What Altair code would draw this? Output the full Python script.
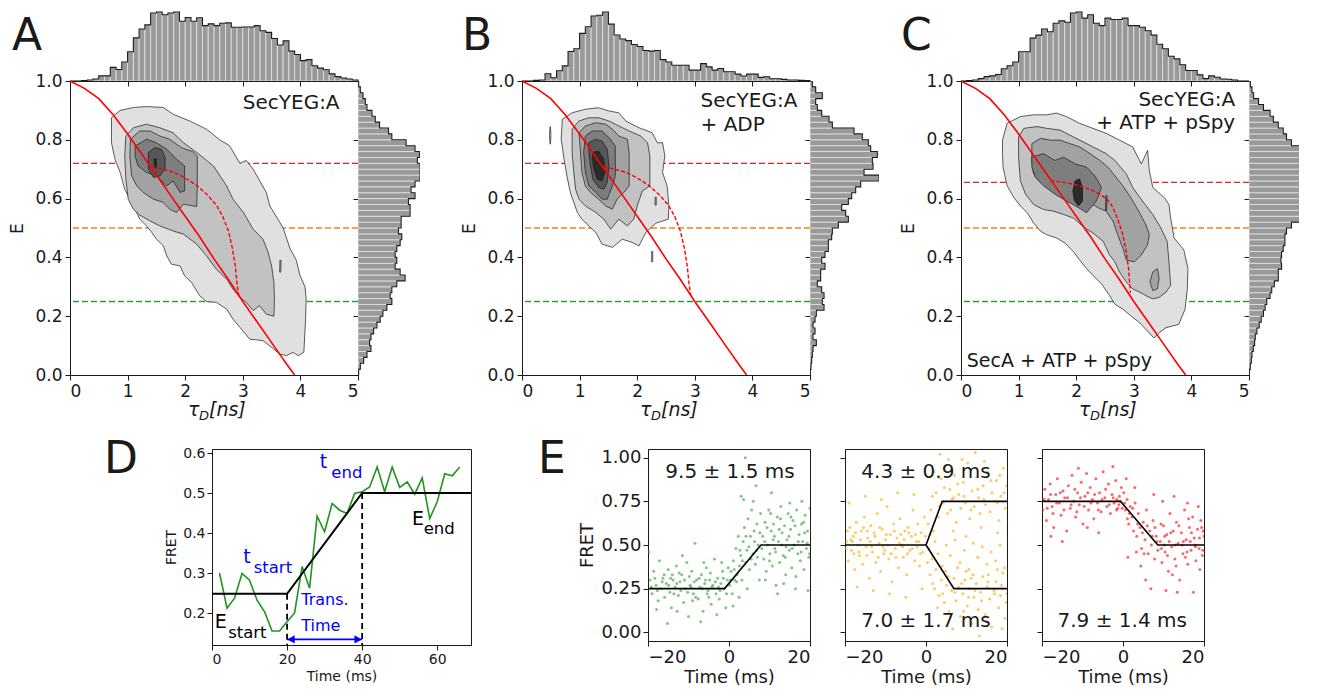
import altair as alt
import pandas as pd

FONT = "DejaVu Sans"
INK = "#1a1a1a"
GREYS = {1: "#e0e0e0", 2: "#c2c2c2", 3: "#a2a2a2", 4: "#7e7e7e", 5: "#575757", 6: "#2a2a2a"}

# ---------------- marginal histograms (counts, arbitrary units) ----------------
TOP_A = [0, 0, 1, 3, 6, 15, 15, 40, 34, 56, 86, 127, 153, 165, 200, 203, 195, 200, 203, 176,
         187, 176, 186, 163, 168, 163, 170, 171, 158, 158, 159, 159, 163, 148, 143, 125, 106, 118, 88, 78,
         60, 63, 45, 38, 33, 21, 13, 9, 6, 3]
TOP_B = [0, 0, 2, 3, 22, 10, 31, 46, 90, 98, 145, 165, 198, 200, 210, 173, 140, 128, 123, 111,
         105, 93, 91, 93, 65, 58, 48, 48, 48, 33, 33, 53, 43, 33, 38, 28, 28, 21, 15, 21,
         21, 11, 13, 7, 7, 5, 3, 3, 2, 1]
TOP_C = [0, 1, 3, 7, 13, 15, 19, 36, 45, 56, 86, 86, 126, 135, 153, 145, 170, 177, 173, 200,
         203, 185, 195, 170, 163, 185, 181, 181, 185, 163, 163, 158, 148, 135, 108, 95, 73, 65, 48, 31,
         31, 18, 7, 15, 11, 6, 5, 3, 0, 0]
RIGHT_A = [2, 7, 17, 27, 39, 35, 39, 47, 57, 67, 75, 87, 102, 97, 102, 117, 142, 127, 112, 117,
           112, 117, 127, 132, 122, 130, 130, 157, 157, 152, 172, 160, 172, 187, 187, 187, 179, 185, 172, 145,
           102, 92, 65, 52, 42, 27, 22, 15, 7, 2]
RIGHT_B = [1, 3, 5, 7, 9, 19, 9, 15, 9, 15, 19, 42, 37, 42, 35, 22, 32, 32, 45, 35,
           45, 55, 55, 65, 67, 85, 115, 107, 95, 115, 125, 137, 152, 207, 162, 189, 187, 202, 182, 175,
           157, 132, 67, 57, 35, 22, 17, 37, 17, 7]
RIGHT_C = [1, 4, 7, 9, 13, 17, 19, 24, 31, 37, 44, 49, 54, 64, 69, 77, 89, 89, 99, 97,
           99, 104, 109, 109, 114, 129, 159, 159, 164, 171, 174, 184, 189, 189, 181, 179, 174, 164, 159, 129,
           114, 104, 89, 74, 64, 44, 29, 14, 9, 4]
TAU_EDGES = [round(0.1 * i, 2) for i in range(51)]
E_EDGES = [round(0.02 * i, 2) for i in range(51)]

# ---------------- FRET lines ----------------
STATIC_TAU = [0, 0.25, 0.5, 0.75, 1.0, 1.25, 1.5, 1.75, 2.0, 2.25, 2.5, 2.75, 3.0, 3.25, 3.5, 3.75, 3.9]
STATIC_E = [1.0, 0.975, 0.94, 0.885, 0.82, 0.75, 0.68, 0.61, 0.54, 0.47, 0.395, 0.325, 0.25, 0.18, 0.11, 0.04, 0.0]
DYN_AB_TAU = [1.42, 1.6, 1.8, 2.0, 2.2, 2.4, 2.55, 2.65, 2.75, 2.82, 2.87, 2.9, 2.93]
DYN_AB_E = [0.71, 0.70, 0.69, 0.67, 0.645, 0.61, 0.575, 0.54, 0.49, 0.43, 0.37, 0.31, 0.27]
DYN_C_TAU = [1.55, 1.8, 2.06, 2.25, 2.41, 2.55, 2.64, 2.72, 2.81, 2.87, 2.91, 2.94]
DYN_C_E = [0.661, 0.655, 0.644, 0.63, 0.615, 0.595, 0.569, 0.53, 0.477, 0.42, 0.36, 0.28]

# ---------------- contour polygons (tau_D, E) ----------------
A_L1 = [(0.72, 0.875), (0.87, 0.90), (1.10, 0.91), (1.33, 0.913), (1.62, 0.91), (1.79, 0.887), (2.08, 0.864),
        (2.37, 0.836), (2.60, 0.80), (2.77, 0.78), (2.95, 0.72), (3.06, 0.73), (3.18, 0.70), (3.41, 0.62),
        (3.47, 0.575), (3.61, 0.53), (3.70, 0.50), (3.82, 0.43), (3.93, 0.39), (3.99, 0.34), (4.08, 0.30),
        (4.10, 0.26), (4.09, 0.19), (4.06, 0.077), (3.96, 0.066), (3.87, 0.077), (3.76, 0.066), (3.64, 0.071),
        (3.50, 0.094), (3.35, 0.117), (3.12, 0.122), (2.95, 0.162), (2.83, 0.19), (2.72, 0.224), (2.54, 0.247),
        (2.37, 0.25), (2.25, 0.27), (2.11, 0.315), (1.99, 0.337), (1.91, 0.371), (1.76, 0.377), (1.68, 0.405),
        (1.62, 0.44), (1.50, 0.462), (1.42, 0.485), (1.33, 0.507), (1.21, 0.53), (1.13, 0.564), (1.04, 0.598),
        (0.95, 0.632), (0.87, 0.689), (0.78, 0.734), (0.72, 0.79)]
A_L2 = [(0.97, 0.813), (1.10, 0.841), (1.33, 0.853), (1.56, 0.841), (1.79, 0.824), (1.97, 0.79), (2.20, 0.757),
        (2.49, 0.711), (2.72, 0.643), (2.83, 0.598), (3.01, 0.553), (3.18, 0.496), (3.35, 0.462), (3.44, 0.417),
        (3.50, 0.371), (3.54, 0.315), (3.55, 0.258), (3.54, 0.20), (3.41, 0.207), (3.29, 0.236), (3.18, 0.219),
        (3.06, 0.247), (2.95, 0.264), (2.83, 0.292), (2.72, 0.326), (2.54, 0.36), (2.37, 0.405), (2.20, 0.445),
        (1.97, 0.479), (1.79, 0.49), (1.56, 0.507), (1.39, 0.524), (1.21, 0.544), (1.10, 0.564), (1.01, 0.598),
        (0.97, 0.666), (0.95, 0.745)]
A_L2_ISLAND = [(3.64, 0.35), (3.66, 0.35), (3.665, 0.39), (3.645, 0.39)]
A_L3 = [(1.05, 0.802), (1.21, 0.83), (1.39, 0.83), (1.56, 0.813), (1.73, 0.802), (1.94, 0.773), (2.14, 0.759),
        (2.21, 0.745), (2.21, 0.643), (2.20, 0.573), (1.97, 0.581), (1.85, 0.553), (1.73, 0.564), (1.62, 0.587),
        (1.45, 0.598), (1.27, 0.621), (1.16, 0.643), (1.07, 0.677), (1.04, 0.745)]
A_L4 = [(1.13, 0.779), (1.33, 0.802), (1.50, 0.79), (1.68, 0.768), (1.85, 0.734), (1.99, 0.711), (1.99, 0.626),
        (1.91, 0.621), (1.79, 0.66), (1.68, 0.643), (1.50, 0.677), (1.33, 0.689), (1.18, 0.711), (1.13, 0.745)]
A_L5 = [(1.36, 0.757), (1.47, 0.773), (1.59, 0.768), (1.65, 0.74), (1.65, 0.70), (1.56, 0.677), (1.45, 0.672),
        (1.36, 0.70)]
A_L6 = [(1.46, 0.705), (1.50, 0.705), (1.50, 0.735), (1.46, 0.735)]

B_L1 = [(0.70, 0.87), (0.87, 0.892), (1.10, 0.904), (1.33, 0.909), (1.51, 0.898), (1.68, 0.892), (1.80, 0.864),
        (2.03, 0.841), (2.26, 0.824), (2.35, 0.79), (2.44, 0.79), (2.48, 0.745), (2.44, 0.689), (2.52, 0.643),
        (2.55, 0.575), (2.54, 0.53), (2.32, 0.516), (2.15, 0.485), (2.03, 0.439), (1.91, 0.451), (1.74, 0.462),
        (1.57, 0.434), (1.39, 0.445), (1.28, 0.485), (1.16, 0.507), (1.04, 0.53), (0.96, 0.553), (0.90, 0.587),
        (0.84, 0.62), (0.78, 0.677), (0.73, 0.734), (0.68, 0.802)]
B_L1_ISLANDS = [[(0.48, 0.80), (0.49, 0.785), (0.50, 0.80), (0.50, 0.83), (0.49, 0.845), (0.48, 0.83)],
                [(2.25, 0.385), (2.27, 0.385), (2.27, 0.42), (2.25, 0.42)]]
B_L2 = [(0.87, 0.836), (0.99, 0.864), (1.16, 0.875), (1.33, 0.875), (1.51, 0.864), (1.68, 0.847), (1.86, 0.83),
        (2.06, 0.813), (2.18, 0.79), (2.22, 0.745), (2.22, 0.643), (2.09, 0.626), (2.00, 0.575), (1.94, 0.53),
        (1.83, 0.507), (1.68, 0.53), (1.54, 0.496), (1.42, 0.53), (1.28, 0.553), (1.10, 0.575), (0.99, 0.598),
        (0.93, 0.632), (0.90, 0.689), (0.87, 0.757)]
B_L2_ISLAND = [(2.31, 0.578), (2.33, 0.578), (2.33, 0.605), (2.31, 0.605)]
B_L3 = [(0.99, 0.824), (1.10, 0.847), (1.28, 0.858), (1.45, 0.853), (1.57, 0.836), (1.68, 0.813), (1.83, 0.802),
        (1.86, 0.757), (1.86, 0.643), (1.77, 0.621), (1.65, 0.598), (1.57, 0.564), (1.45, 0.575), (1.33, 0.598),
        (1.19, 0.621), (1.10, 0.643), (1.04, 0.689), (1.02, 0.745)]
B_L4 = [(1.10, 0.813), (1.22, 0.83), (1.39, 0.83), (1.51, 0.807), (1.62, 0.779), (1.62, 0.677), (1.57, 0.643),
        (1.48, 0.598), (1.39, 0.598), (1.28, 0.621), (1.16, 0.643), (1.10, 0.689), (1.07, 0.757)]
B_L5 = [(1.16, 0.79), (1.28, 0.802), (1.39, 0.796), (1.48, 0.768), (1.51, 0.711), (1.48, 0.655), (1.42, 0.632),
        (1.33, 0.638), (1.23, 0.666), (1.19, 0.711), (1.16, 0.757)]
B_L6 = [(1.23, 0.757), (1.33, 0.762), (1.42, 0.734), (1.44, 0.689), (1.39, 0.66), (1.31, 0.666), (1.25, 0.70),
        (1.22, 0.734)]

C_L1 = [(0.72, 0.799), (0.80, 0.856), (1.03, 0.879), (1.26, 0.885), (1.49, 0.885), (1.66, 0.891), (1.83, 0.879),
        (2.06, 0.856), (2.29, 0.839), (2.52, 0.822), (2.75, 0.799), (2.98, 0.776), (3.13, 0.718), (3.24, 0.764),
        (3.27, 0.695), (3.33, 0.638), (3.53, 0.603), (3.61, 0.58), (3.64, 0.534), (3.70, 0.466), (3.87, 0.425),
        (3.94, 0.362), (3.93, 0.293), (3.89, 0.224), (3.78, 0.172), (3.56, 0.161), (3.44, 0.144), (3.35, 0.126),
        (3.24, 0.149), (3.10, 0.178), (2.95, 0.201), (2.81, 0.224), (2.67, 0.241), (2.58, 0.27), (2.44, 0.31),
        (2.29, 0.339), (2.18, 0.362), (2.06, 0.391), (1.95, 0.42), (1.81, 0.448), (1.66, 0.466), (1.49, 0.477),
        (1.38, 0.489), (1.26, 0.517), (1.15, 0.552), (1.03, 0.575), (0.92, 0.603), (0.80, 0.644), (0.73, 0.707),
        (0.72, 0.753)]
C_L2 = [(1.00, 0.81), (1.09, 0.839), (1.32, 0.845), (1.49, 0.839), (1.72, 0.833), (1.89, 0.816), (2.06, 0.799),
        (2.29, 0.776), (2.52, 0.753), (2.67, 0.73), (2.87, 0.684), (2.98, 0.638), (3.15, 0.592), (3.33, 0.546),
        (3.47, 0.50), (3.58, 0.454), (3.61, 0.385), (3.64, 0.305), (3.56, 0.282), (3.44, 0.264), (3.33, 0.259),
        (3.21, 0.27), (3.10, 0.282), (2.98, 0.293), (2.87, 0.316), (2.75, 0.351), (2.67, 0.385), (2.58, 0.408),
        (2.47, 0.454), (2.29, 0.483), (2.15, 0.50), (1.95, 0.534), (1.78, 0.546), (1.61, 0.557), (1.43, 0.563),
        (1.26, 0.58), (1.12, 0.615), (1.03, 0.661), (1.00, 0.741)]
C_L3 = [(1.23, 0.787), (1.38, 0.805), (1.55, 0.799), (1.72, 0.799), (1.89, 0.787), (2.06, 0.776), (2.24, 0.753),
        (2.41, 0.73), (2.55, 0.707), (2.67, 0.678), (2.81, 0.644), (2.95, 0.603), (3.10, 0.552), (3.21, 0.511),
        (3.27, 0.477), (3.24, 0.443), (3.13, 0.408), (3.01, 0.385), (2.87, 0.391), (2.81, 0.431), (2.72, 0.477),
        (2.64, 0.523), (2.52, 0.557), (2.38, 0.569), (2.24, 0.586), (2.09, 0.592), (1.95, 0.603), (1.81, 0.615),
        (1.66, 0.632), (1.52, 0.649), (1.38, 0.661), (1.26, 0.684), (1.23, 0.73)]
C_L3_ISLAND = [(3.33, 0.351), (3.41, 0.362), (3.44, 0.328), (3.41, 0.293), (3.33, 0.287), (3.28, 0.316)]
C_L4 = [(1.23, 0.741), (1.43, 0.753), (1.63, 0.73), (1.78, 0.741), (1.98, 0.718), (2.18, 0.707), (2.32, 0.678),
        (2.44, 0.638), (2.35, 0.592), (2.18, 0.552), (2.04, 0.569), (1.83, 0.592), (1.63, 0.615), (1.43, 0.644),
        (1.29, 0.672), (1.23, 0.707)]
C_L4_ISLAND = [(2.51, 0.56), (2.53, 0.56), (2.535, 0.61), (2.515, 0.61)]
C_L5 = [(1.98, 0.661), (2.06, 0.667), (2.11, 0.638), (2.11, 0.592), (2.04, 0.575), (1.97, 0.592), (1.94, 0.626)]

# ---------------- panel D ----------------
D_T = [2, 4, 6, 8, 10, 12, 14, 16, 18, 20, 22, 24, 26, 28, 30, 32, 34, 36, 38, 40, 42, 44, 46, 48, 50, 52,
       54, 56, 58, 60, 62, 64, 66]
D_F = [0.30, 0.212, 0.237, 0.299, 0.282, 0.232, 0.203, 0.155, 0.155, 0.178, 0.20, 0.316, 0.262, 0.442, 0.403,
       0.474, 0.457, 0.449, 0.499, 0.503, 0.515, 0.565, 0.503, 0.565, 0.514, 0.528, 0.497, 0.538, 0.436, 0.478,
       0.548, 0.543, 0.565]
D_FIT_T = [0, 20, 40, 69]
D_FIT_F = [0.248, 0.248, 0.5, 0.5]

# ---------------- panel E scatter (time ms, FRET) ----------------
E1_PTS = [(-19.5, 0.30), (-19, 0.22), (-18.6, 0.35), (-18, 0.27), (-17.5, 0.18), (-17.2, 0.41), (-16.8, 0.25),
          (-16.3, 0.31), (-15.9, 0.20), (-15.5, 0.28), (-15, 0.36), (-14.6, 0.23), (-14.2, 0.14), (-13.8, 0.30),
          (-13.3, 0.26), (-13, 0.38), (-12.5, 0.21), (-12.1, 0.29), (-11.7, 0.33), (-11.2, 0.17), (-10.8, 0.25),
          (-10.4, 0.40), (-10, 0.09), (-9.6, 0.27), (-9.2, 0.35), (-8.8, 0.22), (-8.4, 0.51), (-8, 0.30),
          (-7.6, 0.19), (-7.2, 0.26), (-6.8, 0.33), (-6.4, 0.12), (-6, 0.28), (-5.6, 0.37), (-5.2, 0.24),
          (-4.8, 0.30), (-4.4, 0.16), (-4, 0.27), (-3.6, 0.42), (-3.2, 0.22), (-2.8, 0.31), (-2.4, 0.19),
          (-2, 0.28), (-1.6, 0.35), (-1.2, 0.25), (-0.8, 0.14), (-0.4, 0.30), (-19.8, 0.46), (-15.2, 0.05),
          (-11.5, 0.44), (-7, 0.06), (-3, 0.10), (-17.9, 0.13), (-12.8, 0.12), (-9, 0.18), (-5, 0.20),
          (-1.8, 0.40), (-14, 0.33), (-6.2, 0.40), (-2.6, 0.26),
          (0.2, 0.27), (0.5, 0.35), (0.8, 0.22), (1.1, 0.41), (1.4, 0.30), (1.7, 0.48), (2.0, 0.33), (2.3, 0.55),
          (2.6, 0.38), (2.9, 0.44), (3.0, 0.78), (3.2, 0.30), (3.5, 0.52), (3.8, 0.60), (4.0, 1.00), (4.1, 0.40),
          (4.4, 0.47), (4.7, 0.65), (5.0, 0.36), (5.3, 0.55), (5.6, 0.70), (5.9, 0.45), (6.2, 0.58), (6.5, 0.39),
          (6.7, 0.84), (6.9, 0.62), (7.2, 0.50), (7.5, 0.30), (7.8, 0.68), (1.0, 0.15), (2.5, 0.20), (4.5, 0.25),
          (6.0, 0.75), (7.0, 0.43), (3.6, 0.76),
          (8.3, 0.55), (8.6, 0.42), (8.9, 0.63), (9.2, 0.35), (9.5, 0.50), (9.8, 0.70), (10.1, 0.45), (10.4, 0.58),
          (10.7, 0.38), (11, 0.62), (11.3, 0.48), (11.6, 0.27), (11.9, 0.66), (12.2, 0.52), (12.5, 0.40),
          (12.8, 0.72), (13.1, 0.57), (13.4, 0.44), (13.7, 0.61), (14, 0.33), (14.3, 0.53), (14.6, 0.68),
          (14.9, 0.47), (15.2, 0.59), (15.5, 0.37), (15.8, 0.64), (16.1, 0.50), (16.4, 0.25), (16.7, 0.70),
          (17, 0.45), (17.3, 0.56), (17.6, 0.41), (17.9, 0.62), (18.2, 0.52), (18.5, 0.36), (18.8, 0.67),
          (19.1, 0.48), (19.4, 0.58), (19.7, 0.43), (20, 0.71), (9, 0.30), (10.5, 0.80), (12, 0.22), (13.5, 0.28),
          (15, 0.74), (16.5, 0.32), (18, 0.75), (19.5, 0.24), (11.2, 0.55), (14.1, 0.49),
          (-19.2, 0.26), (-18.3, 0.31), (-17.7, 0.24), (-16.5, 0.29), (-16, 0.33), (-14.9, 0.27), (-14.4, 0.31),
          (-13.6, 0.22), (-12.9, 0.28), (-12.3, 0.34), (-11.9, 0.24), (-11, 0.30), (-10.2, 0.23), (-9.8, 0.32),
          (-9.4, 0.26), (-8.6, 0.29), (-8.2, 0.20), (-7.4, 0.31), (-6.6, 0.25), (-5.8, 0.30), (-5.4, 0.22),
          (-4.6, 0.34), (-4.2, 0.26), (-3.4, 0.29), (-2.2, 0.24), (-1.4, 0.31), (-0.6, 0.22), (-0.2, 0.37),
          (0.4, 0.30), (1.3, 0.36), (1.9, 0.29), (2.7, 0.47), (3.3, 0.41), (4.2, 0.55), (4.9, 0.49), (5.5, 0.42),
          (6.3, 0.52), (6.8, 0.47), (7.6, 0.57), (8.1, 0.48), (8.8, 0.52), (9.4, 0.60), (10, 0.41), (10.9, 0.53),
          (11.5, 0.46), (12.4, 0.59), (13, 0.50), (13.9, 0.43), (14.8, 0.55), (15.6, 0.48), (16.3, 0.61),
          (17.1, 0.52), (17.8, 0.46), (18.7, 0.57), (19.3, 0.51), (19.9, 0.45), (12.7, 0.65), (15.3, 0.66),
          (18.4, 0.63), (10.3, 0.68)]
E2_PTS = [(-19.6, 0.52), (-19.2, 0.41), (-18.8, 0.60), (-18.4, 0.47), (-18, 0.55), (-17.6, 0.36), (-17.2, 0.63),
          (-16.8, 0.50), (-16.4, 0.44), (-16, 0.58), (-15.6, 0.39), (-15.2, 0.66), (-14.8, 0.49), (-14.4, 0.54),
          (-14, 0.31), (-13.6, 0.61), (-13.2, 0.46), (-12.8, 0.57), (-12.4, 0.40), (-12, 0.68), (-11.6, 0.51),
          (-11.2, 0.35), (-10.8, 0.59), (-10.4, 0.45), (-10, 0.53), (-9.6, 0.72), (-9.2, 0.42), (-8.8, 0.56),
          (-8.4, 0.29), (-8, 0.62), (-7.6, 0.48), (-7.2, 0.54), (-6.8, 0.37), (-6.4, 0.65), (-6, 0.50),
          (-5.6, 0.43), (-5.2, 0.58), (-4.8, 0.33), (-4.4, 0.60), (-4, 0.47), (-3.6, 0.55), (-3.2, 0.70),
          (-2.8, 0.41), (-2.4, 0.52), (-2, 0.62), (-1.6, 0.38), (-1.2, 0.57), (-0.8, 0.46), (-0.4, 0.66),
          (-19, 0.74), (-17, 0.26), (-15, 0.78), (-13, 0.24), (-11, 0.76), (-9, 0.22), (-7, 0.80), (-5, 0.20),
          (-3, 0.79), (-1, 0.25), (-18.2, 0.52), (-14.5, 0.58), (-10.6, 0.49), (-6.6, 0.51), (-2.2, 0.49),
          (0.5, 0.62), (1.2, 0.70), (1.8, 0.58), (2.5, 0.80), (3.1, 0.66), (3.7, 0.88), (4.2, 0.74), (4.8, 0.95),
          (5.3, 0.68), (5.9, 0.82), (6.4, 0.76), (7, 0.90), (7.5, 0.63), (8.1, 0.79), (8.6, 0.71), (9.2, 0.86),
          (9.7, 0.74), (10.3, 0.97), (10.8, 0.65), (11.4, 0.81), (11.9, 0.72), (12.5, 0.89), (13, 0.77),
          (13.6, 0.60), (14.1, 0.84), (14.7, 0.73), (15.2, 0.92), (15.8, 0.69), (16.3, 0.80), (16.9, 0.75),
          (17.4, 0.87), (18, 0.64), (18.5, 0.78), (19.1, 0.94), (19.6, 0.71), (3.4, 1.02), (12.2, 1.03),
          (6.7, 0.58), (9.9, 0.55), (17.7, 0.57), (2.0, 0.92), (5.6, 0.99), (14.4, 0.98), (19.9, 0.84), (8.9, 0.99),
          (0.8, 0.48), (1.5, 0.42), (2.2, 0.52), (3.0, 0.45), (4.0, 0.38), (5.0, 0.50), (6.0, 0.44), (7.2, 0.53),
          (8.4, 0.40), (9.5, 0.47), (10.6, 0.36), (11.7, 0.51), (12.8, 0.43), (13.9, 0.49), (15, 0.39),
          (16.1, 0.46), (17.2, 0.41), (18.3, 0.50), (19.4, 0.37), (1.0, 0.56),
          (0.3, 0.40), (1.0, 0.33), (1.7, 0.28), (2.4, 0.36), (3.2, 0.21), (3.8, 0.30), (4.5, 0.17), (5.1, 0.27),
          (5.7, 0.12), (6.3, 0.24), (6.9, 0.31), (7.4, 0.18), (8, 0.26), (8.5, 0.09), (9.1, 0.22), (9.6, 0.30),
          (10.2, 0.15), (10.7, 0.25), (11.3, 0.05), (11.8, 0.20), (12.4, 0.28), (12.9, 0.13), (13.5, 0.23),
          (14, 0.32), (14.6, 0.10), (15.1, 0.26), (15.7, 0.19), (16.2, 0.03), (16.8, 0.24), (17.3, 0.29),
          (17.9, 0.14), (18.4, 0.21), (19, 0.34), (19.5, 0.08), (20, 0.22), (2.8, 0.14), (6.6, 0.02), (9.9, 0.35),
          (13.2, -0.02), (17.6, 0.36), (4.8, 0.35), (11.1, 0.31), (15.4, 0.33), (18.8, 0.02), (7.8, 0.37),
          (-19.8, 0.48), (-19.4, 0.58), (-18.6, 0.53), (-17.8, 0.45), (-17.4, 0.57), (-16.6, 0.46), (-16.2, 0.53),
          (-15.4, 0.60), (-14.6, 0.44), (-13.8, 0.52), (-13.4, 0.49), (-12.6, 0.55), (-11.8, 0.43), (-11.4, 0.60),
          (-10.2, 0.47), (-9.8, 0.56), (-9.4, 0.50), (-8.6, 0.45), (-7.8, 0.58), (-7.4, 0.43), (-6.2, 0.56),
          (-5.8, 0.49), (-5.4, 0.53), (-4.6, 0.45), (-4.2, 0.57), (-3.4, 0.48), (-2.6, 0.56), (-1.8, 0.52),
          (-1.4, 0.45), (-0.2, 0.55),
          (1.6, 0.78), (3.3, 0.72), (4.5, 0.83), (6.1, 0.70), (7.8, 0.85), (9.4, 0.78), (11.1, 0.70), (12.8, 0.82),
          (14.3, 0.76), (16, 0.87), (17.6, 0.74), (19.3, 0.80), (6.8, 0.77), (13.3, 0.68), (18.2, 0.90),
          (2.1, 0.25), (4.1, 0.22), (5.5, 0.32), (7.1, 0.23), (8.8, 0.28), (10.5, 0.20), (12.1, 0.24), (13.7, 0.18),
          (15.3, 0.29), (16.9, 0.22), (18.6, 0.27), (19.8, 0.17), (9.3, 0.12), (14.9, 0.06), (11.6, 0.33)]
E3_PTS = [(-19.8, 0.70), (-19.3, 0.82), (-18.9, 0.64), (-18.4, 0.76), (-18, 0.85), (-17.5, 0.72), (-17.1, 0.60),
          (-16.6, 0.79), (-16.2, 0.88), (-15.7, 0.74), (-15.3, 0.67), (-14.8, 0.81), (-14.4, 0.77), (-13.9, 0.58),
          (-13.5, 0.84), (-13, 0.71), (-12.6, 0.90), (-12.1, 0.75), (-11.7, 0.66), (-11.2, 0.80), (-10.8, 0.73),
          (-10.3, 0.86), (-9.9, 0.62), (-9.4, 0.78), (-9, 0.91), (-8.5, 0.70), (-8.1, 0.83), (-7.6, 0.76),
          (-7.2, 0.65), (-6.7, 0.88), (-6.3, 0.74), (-5.8, 0.80), (-5.4, 0.69), (-4.9, 0.92), (-4.5, 0.77),
          (-4, 0.72), (-3.6, 0.85), (-3.1, 0.68), (-2.7, 0.79), (-2.2, 0.74), (-1.8, 0.87), (-1.3, 0.71),
          (-0.9, 0.78), (-0.4, 0.83), (-17.8, 0.55), (-11, 0.94), (-6, 0.57), (-2.5, 0.95), (-15, 0.52),
          (-8.8, 0.60), (-1.0, 0.73), (-1.5, 0.76),
          (0.2, 0.80), (0.6, 0.70), (1.0, 0.76), (1.4, 0.62), (1.8, 0.72), (2.2, 0.66), (2.6, 0.58), (3.0, 0.74),
          (3.4, 0.55), (3.8, 0.68), (4.2, 0.60), (4.6, 0.48), (5.0, 0.63), (5.4, 0.53), (5.8, 0.70), (6.2, 0.45),
          (6.6, 0.58), (7.0, 0.50), (7.4, 0.64), (7.8, 0.42), (8.2, 0.55), (8.6, 0.47), (0.8, 0.88), (2.9, 0.83),
          (4.4, 0.38), (5.6, 0.30), (6.9, 0.25), (7.6, 0.79), (1.2, 0.43), (3.3, 0.46),
          (9.2, 0.52), (9.6, 0.40), (10, 0.61), (10.4, 0.46), (10.8, 0.56), (11.2, 0.35), (11.6, 0.68), (12, 0.49),
          (12.4, 0.58), (12.8, 0.42), (13.2, 0.63), (13.6, 0.51), (14, 0.30), (14.4, 0.57), (14.8, 0.45),
          (15.2, 0.70), (15.6, 0.53), (16, 0.39), (16.4, 0.60), (16.8, 0.47), (17.2, 0.66), (17.6, 0.54),
          (18, 0.41), (18.4, 0.59), (18.8, 0.48), (19.2, 0.64), (19.6, 0.44), (20, 0.55), (9.8, 0.75),
          (12.6, 0.78), (15.9, 0.74), (18.6, 0.72), (10.6, 0.24), (13.4, 0.23), (17.4, 0.23), (11.4, 0.52),
          (14.6, 0.50), (19, 0.36), (16.6, 0.52), (12.2, 0.33), (9.4, 0.62), (17.8, 0.50), (19.8, 0.58),
          (10.2, 0.50), (15.4, 0.43),
          (-19.5, 0.76), (-18.7, 0.71), (-17.9, 0.79), (-17.3, 0.68), (-16.4, 0.74), (-15.5, 0.80), (-14.6, 0.70),
          (-13.7, 0.77), (-12.8, 0.73), (-11.9, 0.82), (-11.4, 0.69), (-10.5, 0.77), (-9.6, 0.72), (-8.7, 0.80),
          (-7.9, 0.74), (-7, 0.79), (-6.1, 0.70), (-5.2, 0.76), (-4.3, 0.82), (-3.4, 0.73), (-2.4, 0.77),
          (-1.6, 0.70), (-0.7, 0.75), (-0.2, 0.71),
          (0.4, 0.74), (1.6, 0.68), (2.4, 0.71), (3.6, 0.62), (4.8, 0.57), (6.0, 0.61), (7.2, 0.55), (8.4, 0.52),
          (1.1, 0.65), (5.2, 0.45), (7.9, 0.60),
          (9.5, 0.48), (10.3, 0.55), (11, 0.44), (11.8, 0.57), (12.9, 0.50), (13.8, 0.61), (14.9, 0.52),
          (15.8, 0.46), (16.9, 0.57), (17.9, 0.49), (18.9, 0.54), (19.7, 0.47), (13.1, 0.38), (16.2, 0.65),
          (19.4, 0.60)]
E1_FITS = [([-20, -1.1, 7.9, 20], [0.25, 0.25, 0.5, 0.5])]
E2_FITS = [([-20, 0, 4.0, 20], [0.5, 0.5, 0.75, 0.75]), ([0, 6.9, 20], [0.5, 0.25, 0.25])]
E3_FITS = [([-20, -0.6, 8.6, 20], [0.75, 0.75, 0.5, 0.5])]

NOSTROKE = alt.ViewBackground(stroke="transparent")


# =============================== builders ===============================
def letter_layer(letter, px, py):
    return alt.Chart(pd.DataFrame({"t": [letter]})).mark_text(
        align="left", baseline="alphabetic", fontSize=44, color=INK, font=FONT
    ).encode(text="t:N", x=alt.value(px), y=alt.value(py))


def blank(w, h):
    return alt.Chart(pd.DataFrame({"a": [0]})).mark_point(opacity=0).encode(
        x=alt.value(0), y=alt.value(0)).properties(width=w, height=h, view=NOSTROKE)


def top_hist(counts, letter, lx, ly):
    mx = max(counts)
    X = alt.X("x:Q", scale=alt.Scale(domain=[0, 5], nice=False, zero=False),
              axis=alt.Axis(values=[0, 1, 2, 3, 4, 5], labels=False, tickSize=5, title=None, grid=False))
    Y = alt.Y("c:Q", scale=alt.Scale(domain=[0, mx], nice=False), axis=None)
    bars = alt.Chart(pd.DataFrame({"x": TAU_EDGES[:-1], "x1": TAU_EDGES[1:], "c": counts,
                                   "z": [0] * len(counts)})).mark_bar(
        fill="#999999", stroke="#e4e4e4", strokeWidth=0.8).encode(x=X, x2="x1:Q", y=Y, y2="z:Q")
    sx = [0.0] + TAU_EDGES[:-1] + [5.0, 5.0]
    sy = [0] + list(counts) + [counts[-1], 0]
    step = alt.Chart(pd.DataFrame({"x": sx, "c": sy, "i": list(range(len(sx)))})).mark_line(
        interpolate="step-after", color=INK, strokeWidth=1.1).encode(x=X, y=Y, order="i:Q")
    return alt.layer(bars, step, letter_layer(letter, lx, ly)).properties(width=288, height=69, view=NOSTROKE)


def right_hist(counts, width, dmax):
    Y = alt.Y("y:Q", scale=alt.Scale(domain=[0, 1], nice=False, zero=False),
              axis=alt.Axis(values=[0, 0.2, 0.4, 0.6, 0.8, 1.0], labels=False, tickSize=5, title=None, grid=False))
    X = alt.X("c:Q", scale=alt.Scale(domain=[0, dmax], nice=False), axis=None)
    bars = alt.Chart(pd.DataFrame({"y": E_EDGES[:-1], "y1": E_EDGES[1:], "c": counts,
                                   "z": [0] * len(counts)})).mark_bar(
        fill="#999999", stroke="#e4e4e4", strokeWidth=0.8, clip=True).encode(y=Y, y2="y1:Q", x=X, x2="z:Q")
    sx = [0] + list(counts) + [counts[-1], 0]
    sy = [0.0] + E_EDGES[:-1] + [1.0, 1.0]
    step = alt.Chart(pd.DataFrame({"c": sx, "y": sy, "i": list(range(len(sx)))})).mark_line(
        interpolate="step-before", color=INK, strokeWidth=1.1, clip=True).encode(x=X, y=Y, order="i:Q")
    return alt.layer(bars, step).properties(width=width, height=294, view=NOSTROKE)


def main_panel(levels, hlines, dyn_tau, dyn_e, texts):
    X = alt.X("x:Q", scale=alt.Scale(domain=[0, 5], nice=False, zero=False),
              axis=alt.Axis(values=[0, 1, 2, 3, 4, 5], format="d", title=None, labelFontSize=17,
                            tickSize=5, labelPadding=3, grid=False))
    Y = alt.Y("y:Q", scale=alt.Scale(domain=[0, 1], nice=False, zero=False),
              axis=alt.Axis(values=[0, 0.2, 0.4, 0.6, 0.8, 1.0], format=".1f", title="E", labelFontSize=17,
                            titleFontSize=17, tickSize=5, labelPadding=3, titlePadding=8, grid=False))
    layers = []
    for val, col in hlines:
        layers.append(alt.Chart(pd.DataFrame({"y": [val]})).mark_rule(
            color=col, strokeDash=[6, 3], strokeWidth=1.3).encode(y=Y))
    for lvl, polys in levels:
        rows = []
        for pid, poly in enumerate(polys):
            for i, (x, y) in enumerate(poly):
                rows.append({"x": x, "y": y, "p": pid, "i": i})
        layers.append(alt.Chart(pd.DataFrame(rows)).mark_line(
            interpolate="linear-closed", fill=GREYS[lvl], stroke=INK, strokeWidth=0.7).encode(
            x=X, y=Y, detail="p:N", order="i:Q"))
    layers.append(alt.Chart(pd.DataFrame({"x": STATIC_TAU, "y": STATIC_E})).mark_line(
        color="#ff0000", strokeWidth=1.6).encode(x=X, y=Y))
    layers.append(alt.Chart(pd.DataFrame({"x": dyn_tau, "y": dyn_e})).mark_line(
        color="#ff0000", strokeWidth=1.4, strokeDash=[4, 2]).encode(x=X, y=Y))
    for txt, x, y, align, size in texts:
        layers.append(alt.Chart(pd.DataFrame({"x": [x], "y": [y], "t": [txt]})).mark_text(
            align=align, baseline="middle", fontSize=size, color=INK, font=FONT).encode(x=X, y=Y, text="t:N"))
    for txt, px, py, size in [("τ", 118, 335, 19), ("D", 129, 339, 13), ("[ns]", 139, 335, 19)]:
        layers.append(alt.Chart(pd.DataFrame({"t": [txt]})).mark_text(
            align="left", baseline="alphabetic", fontSize=size, fontStyle="italic", color=INK, font=FONT
        ).encode(text="t:N", x=alt.value(px), y=alt.value(py)))
    return alt.layer(*layers).properties(width=288, height=294)


def group(top, main, right, rw):
    return alt.concat(top, blank(rw, 69), main, right, columns=2, spacing=0, bounds="flush")


HL_AB = [(0.72, "#d62728"), (0.5, "#ff7f0e"), (0.25, "#2ca02c")]
HL_C = [(0.655, "#d62728"), (0.5, "#ff7f0e"), (0.25, "#2ca02c")]

mainA = main_panel([(1, [A_L1]), (2, [A_L2, A_L2_ISLAND]), (3, [A_L3]), (4, [A_L4]), (5, [A_L5]), (6, [A_L6])],
                   HL_AB, DYN_AB_TAU, DYN_AB_E, [("SecYEG:A", 4.68, 0.926, "right", 20)])
mainB = main_panel([(1, [B_L1] + B_L1_ISLANDS), (2, [B_L2, B_L2_ISLAND]), (3, [B_L3]), (4, [B_L4]), (5, [B_L5]),
                    (6, [B_L6])],
                   HL_AB, DYN_AB_TAU, DYN_AB_E,
                   [("SecYEG:A", 3.10, 0.932, "left", 20), ("+ ADP", 3.10, 0.849, "left", 20)])
mainC = main_panel([(1, [C_L1]), (2, [C_L2]), (3, [C_L3, C_L3_ISLAND]), (4, [C_L4, C_L4_ISLAND]), (6, [C_L5])],
                   HL_C, DYN_C_TAU, DYN_C_E,
                   [("SecYEG:A", 4.76, 0.937, "right", 20), ("+ ATP + pSpy", 4.76, 0.856, "right", 20),
                    ("SecA + ATP + pSpy", 0.10, 0.046, "left", 19)])

gA = group(top_hist(TOP_A, "A", -58, 38), mainA, right_hist(RIGHT_A, 62, 187), 62)
gB = group(top_hist(TOP_B, "B", -60, 38), mainB, right_hist(RIGHT_B, 69, 207), 69)
gC = group(top_hist(TOP_C, "C", -60, 38), mainC, right_hist(RIGHT_C, 50, 152), 50)
top_row = alt.hconcat(gA, alt.hconcat(gB, gC, spacing=19), spacing=39)

# ---------------- panel D ----------------
DX = alt.X("t:Q", scale=alt.Scale(domain=[0, 69], nice=False, zero=False),
           axis=alt.Axis(values=[0, 20, 40, 60], format="d", title="Time (ms)", labelFontSize=14, titleFontSize=14,
                         tickSize=5, grid=False, titlePadding=3))
DY = alt.Y("f:Q", scale=alt.Scale(domain=[0.12, 0.61], nice=False, zero=False),
           axis=alt.Axis(values=[0.2, 0.3, 0.4, 0.5, 0.6], format=".1f", title="FRET", labelFontSize=14,
                         titleFontSize=14, tickSize=5, grid=False))
d_layers = [
    alt.Chart(pd.DataFrame({"t": D_T, "f": D_F})).mark_line(color="#1f951f", strokeWidth=1.6).encode(x=DX, y=DY),
    alt.Chart(pd.DataFrame({"t": D_FIT_T, "f": D_FIT_F})).mark_line(color="black", strokeWidth=2).encode(x=DX, y=DY),
    alt.Chart(pd.DataFrame({"t": [20, 40], "f": [0.248, 0.5]})).mark_rule(
        color="black", strokeDash=[6, 4], strokeWidth=1.8).encode(x=DX, y=DY, y2=alt.value(196)),
    alt.Chart(pd.DataFrame({"t": [20], "t2": [40], "f": [0.134]})).mark_rule(
        color="#0000ff", strokeWidth=1.6).encode(x=DX, x2="t2:Q", y=DY),
    alt.Chart(pd.DataFrame({"t": [20], "f": [0.134]})).mark_point(
        shape="triangle-left", filled=True, color="#0000ff", size=70, opacity=1, xOffset=4).encode(x=DX, y=DY),
    alt.Chart(pd.DataFrame({"t": [40], "f": [0.134]})).mark_point(
        shape="triangle-right", filled=True, color="#0000ff", size=70, opacity=1, xOffset=-4).encode(x=DX, y=DY),
]
D_TEXTS = [("t", 8.3, 0.324, 19, "#0000ff"), ("start", 11.1, 0.30, 16.5, "#0000ff"),
           ("t", 28.7, 0.563, 19, "#0000ff"), ("end", 31.8, 0.538, 16.5, "#0000ff"),
           ("E", 0.7, 0.162, 19, "black"), ("start", 4.3, 0.137, 16.5, "black"),
           ("E", 53.3, 0.42, 19, "black"), ("end", 56.4, 0.397, 16.5, "black")]
for txt, x, y, size, col in D_TEXTS:
    d_layers.append(alt.Chart(pd.DataFrame({"t": [x], "f": [y], "s": [txt]})).mark_text(
        align="left", baseline="alphabetic", fontSize=size, color=col, font=FONT).encode(x=DX, y=DY, text="s:N"))
for txt, x, y in [("Trans.", 30.1, 0.22), ("Time", 29.0, 0.155)]:
    d_layers.append(alt.Chart(pd.DataFrame({"t": [x], "f": [y], "s": [txt]})).mark_text(
        align="center", baseline="alphabetic", fontSize=16, color="#0000ff", font=FONT).encode(
        x=DX, y=DY, text="s:N"))
panelD = alt.layer(*d_layers).properties(width=259, height=196)

spacerD = letter_layer("D", 34, 24).properties(width=142, height=196, view=NOSTROKE)


# ---------------- panel E ----------------
def e_panel(pts, color, fits, texts, first):
    EX = alt.X("t:Q", scale=alt.Scale(domain=[-20, 20], nice=False, zero=False),
               axis=alt.Axis(values=[-20, 0, 20], format="d", title="Time (ms)", labelFontSize=18,
                             titleFontSize=18, tickSize=5, grid=False, titlePadding=2))
    yax = dict(values=[0, 0.25, 0.5, 0.75, 1.0], format=".2f", labelFontSize=18, titleFontSize=18,
               tickSize=5, grid=False, labels=first, title="FRET" if first else "")
    EY = alt.Y("f:Q", scale=alt.Scale(domain=[-0.05, 1.05], nice=False, zero=False), axis=alt.Axis(**yax))
    layers = [alt.Chart(pd.DataFrame({"t": [p[0] for p in pts], "f": [p[1] for p in pts]})).mark_circle(
        color=color, size=9, opacity=0.6, clip=True).encode(x=EX, y=EY)]
    for ts, fs in fits:
        layers.append(alt.Chart(pd.DataFrame({"t": ts, "f": fs})).mark_line(
            color="black", strokeWidth=1.6).encode(x=EX, y=EY))
    for txt, x, y in texts:
        layers.append(alt.Chart(pd.DataFrame({"t": [x], "f": [y], "s": [txt]})).mark_text(
            align="center", baseline="middle", fontSize=20, color=INK, font=FONT).encode(x=EX, y=EY, text="s:N"))
    if first:
        layers.append(letter_layer("E", -110, 24))
    return alt.layer(*layers).properties(width=162, height=192)


E1 = e_panel(E1_PTS, "#2ca02c", E1_FITS, [("9.5 ± 1.5 ms", 0.25, 0.92)], True)
E2 = e_panel(E2_PTS, "#ffa500", E2_FITS, [("4.3 ± 0.9 ms", 0.0, 0.92), ("7.0 ± 1.7 ms", 0.0, 0.066)], False)
E3 = e_panel(E3_PTS, "#ff0000", E3_FITS, [("7.9 ± 1.4 ms", -0.2, 0.066)], False)

bottom_row = alt.hconcat(spacerD, panelD, blank(177, 196), E1, blank(35, 196), E2, blank(35, 196), E3,
                         spacing=0, bounds="flush")

chart = alt.vconcat(top_row, bottom_row, spacing=13).properties(
    padding={"left": 0, "top": 0, "right": 0, "bottom": 0}
).configure(font=FONT).configure_view(stroke=INK, strokeWidth=1).configure_axis(
    labelFont=FONT, titleFont=FONT, labelColor=INK, titleColor=INK, tickColor=INK, domainColor=INK,
    titleFontWeight="normal", domainWidth=1, tickWidth=1
)

chart.save("out.html", embed_options={"renderer": "svg", "actions": False})
